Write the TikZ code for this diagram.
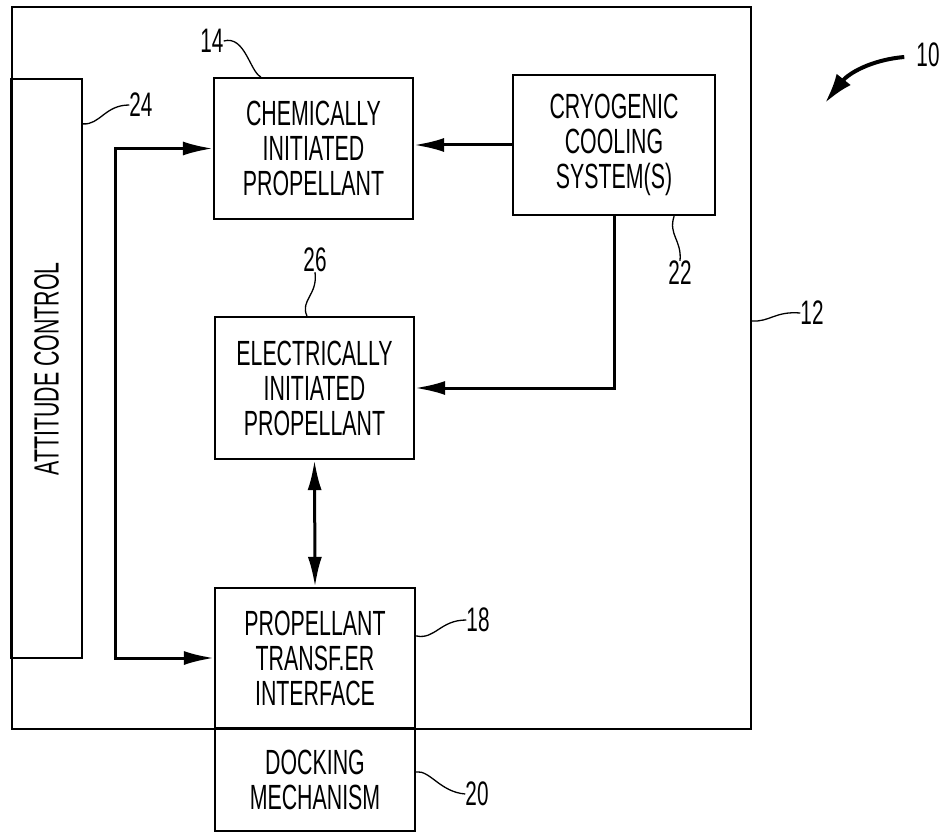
\documentclass[tikz,border=0pt]{standalone}
\usepackage{fontspec}
\newfontfamily\pat[FakeStretch=0.61]{Liberation Sans}
\usetikzlibrary{arrows.meta,calc}
\tikzset{
  box/.style={draw, line width=2.2pt, inner sep=0pt, align=center,
    font=\pat\fontsize{35}{35}\selectfont},
  conn/.style={line width=3pt},
  head/.style={-{Latex[length=30pt,width=14pt]}},
  heads/.style={{Latex[length=30pt,width=14pt]}-{Latex[length=30pt,width=14pt]}},
  lead/.style={line width=1.3pt},
  num/.style={inner sep=0pt, font=\pat\fontsize{34}{34}\selectfont}
}
\begin{document}
\begin{tikzpicture}[x=1pt,y=-1pt]
\useasboundingbox (0,0) rectangle (948,832);
% outer vehicle box
\node[draw, line width=2.2pt, minimum width=739pt, minimum height=722pt, anchor=north west, inner sep=0pt] (outer) at (11,6) {};
% attitude control
\node[draw, line width=2.2pt, minimum width=71pt, minimum height=579pt, inner sep=0pt] (att) at (46.5,368.5) {};
\node[rotate=90, inner sep=0pt, font=\pat\fontsize{35}{35}\selectfont] (attt) at (46.5,369) {ATTITUDE CONTROL};
% boxes
\node[box, minimum width=199pt, minimum height=141pt] (chem) at (313.5,148.5) {CHEMICALLY\\INITIATED\\PROPELLANT};
\node[box, minimum width=202pt, minimum height=140pt] (cryo) at (614,145) {CRYOGENIC\\COOLING\\SYSTEM(S)};
\node[box, minimum width=199pt, minimum height=142pt] (elec) at (314.5,388) {ELECTRICALLY\\INITIATED\\PROPELLANT};
\node[box, minimum width=200pt, minimum height=140pt] (pti) at (315,658) {PROPELLANT\\TRANSF.ER\\INTERFACE};
\node[box, minimum width=200pt, minimum height=103pt] (dock) at (315,779.5) {DOCKING\\MECHANISM};
% connectors
\draw[conn,head] (cryo.west) -- (cryo.west -| chem.east);
\draw[conn,head] (cryo.south) |- (elec.east);
\draw[conn,heads] (elec.south) -- (pti.north);
\coordinate (lx) at (115,0);
\draw[conn,heads] (chem.west) -- (chem.west -| lx) |- (pti.west);
% reference numerals
\node[num] (n14) at (212,41) {14};
\node[num] (n24) at (141,105) {24};
\node[num] (n22) at (680,273) {22};
\node[num] (n12) at (812,313) {12};
\node[num] (n26) at (315,260) {26};
\node[num] (n18) at (478,620) {18};
\node[num] (n20) at (477,794) {20};
\node[num] (n10) at (928,55) {10};
\draw[lead] (n14.east) .. controls (245,35) and (250,72) .. ($(chem.north west)+(48,0)$);
\draw[lead] ($(att.north east)+(0,46)$) .. controls (100,125) and (105,105) .. (n24.west);
\draw[lead] ($(cryo.south east)+(-42,0)$) .. controls (668,235) and (682,240) .. (n22.north);
\draw[lead] ($(outer.north east)+(0,315)$) .. controls (770,322) and (775,311) .. (n12.west);
\draw[lead] ($(elec.north west)+(93,0)$) .. controls (300,300) and (318,295) .. (n26.south);
\draw[lead] ($(pti.north east)+(0,49)$) .. controls (435,640) and (440,620) .. (n18.west);
\draw[lead] ($(dock.north east)+(0,45)$) .. controls (430,770) and (440,792) .. (n20.west);
\draw[line width=4pt,-{Latex[length=30pt,width=18pt]}] ($(n10.west)+(-12,2)$) .. controls (870,60) and (848,74) .. (825,103);
\end{tikzpicture}
\end{document}
